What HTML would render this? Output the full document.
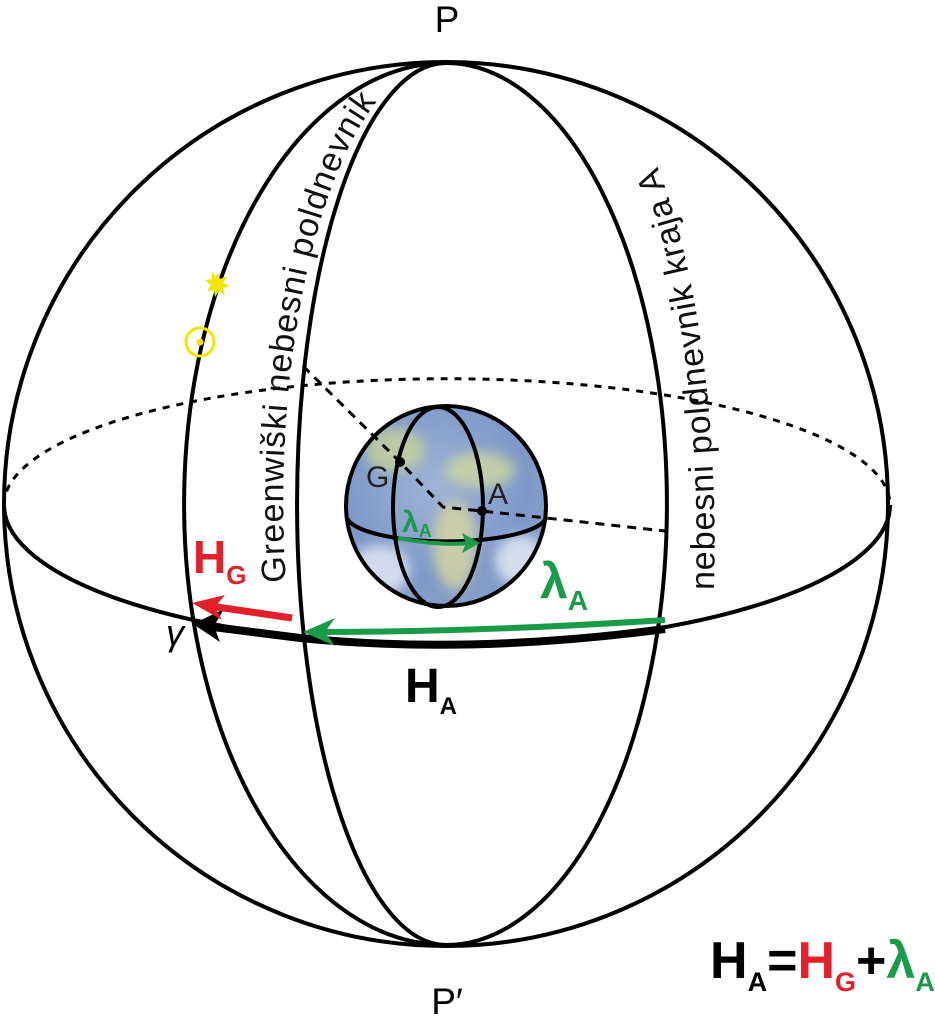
<!DOCTYPE html>
<html><head><meta charset="utf-8"><style>html,body{margin:0;padding:0;background:#fff}svg{display:block}</style></head>
<body>
<svg width="935" height="1024" viewBox="0 0 935 1024" xmlns="http://www.w3.org/2000/svg" font-family="Liberation Sans, sans-serif">
<defs>
<radialGradient id="eg" cx="0.45" cy="0.4" r="0.65">
<stop offset="0" stop-color="#9fb4d6"/><stop offset="0.7" stop-color="#7f98c8"/><stop offset="1" stop-color="#8aa0c8"/>
</radialGradient>
<filter id="bl"><feGaussianBlur stdDeviation="6"/></filter>
<clipPath id="ec"><circle cx="446" cy="506" r="100"/></clipPath>
<path id="gp" d="M286 582 A162 441 0 0 1 392 85"/>
<path id="rp" d="M714 590 C718 440 702 262 648 145"/>
</defs>
<g fill="none" stroke="#000" stroke-width="4">
<circle cx="446" cy="504" r="442"/>
<path d="M446 63 A262 441 0 0 0 446 945"/>
<path d="M446 63 A149 441 0 0 0 446 945"/>
<path d="M446 63 A221 441 0 0 1 446 945"/>
<path d="M4 505 A442 140 0 0 0 890 505"/>
<path d="M4 505 A442 126 0 0 1 890 505" stroke-dasharray="7,7" stroke-width="3"/>
</g>
<!-- earth -->
<circle cx="446" cy="506" r="100" fill="url(#eg)"/>
<g clip-path="url(#ec)" filter="url(#bl)" opacity="0.8">
<ellipse cx="395" cy="450" rx="30" ry="22" fill="#c8d49a"/>
<ellipse cx="480" cy="470" rx="35" ry="18" fill="#cdd8a0"/>
<ellipse cx="455" cy="545" rx="22" ry="45" fill="#d9d7a2"/>
<ellipse cx="380" cy="570" rx="30" ry="25" fill="#e6ecf4"/>
<ellipse cx="520" cy="560" rx="25" ry="25" fill="#e8eef6"/>
</g>
<g fill="none" stroke="#000" stroke-width="4">
<circle cx="446" cy="506" r="100"/>
<ellipse cx="438" cy="507" rx="45" ry="100"/>
<path d="M347 518 A100 26 0 0 0 546 518"/>
</g>
<!-- dashed lines -->
<g fill="none" stroke="#000" stroke-width="3" stroke-dasharray="9,7">
<path d="M303 366 L400 462 L443 507 L482 511 L665 531"/>
</g>
<circle cx="400" cy="462" r="5"/>
<circle cx="482" cy="511" r="5"/>
<!-- small green arrow -->
<path d="M398 538 Q440 546 470 543" fill="none" stroke="#1a9b4a" stroke-width="4"/>
<path d="M480 543 L462 533 L466 543 L462 553 Z" fill="#1a9b4a"/>
<!-- big arrows -->
<path d="M665 629 Q470 655 300 638 L205 626" fill="none" stroke="#000" stroke-width="8"/>
<path d="M193 624 L224 609 L214 626 L220 642 Z" fill="#000"/>
<path d="M665 620 Q480 632 318 632" fill="none" stroke="#1a9b4a" stroke-width="6"/>
<path d="M303 632 L335 618 L325 632 L335 646 Z" fill="#1a9b4a"/>
<path d="M292 618 L210 606" fill="none" stroke="#e3202a" stroke-width="7"/>
<path d="M192 603 L225 595 L215 607 L222 620 Z" fill="#e3202a"/>
<!-- sun and star -->
<circle cx="200" cy="342" r="14" fill="none" stroke="#f2e600" stroke-width="3"/>
<circle cx="200" cy="342" r="3.5" fill="#f2e600"/>
<polygon points="218,272 220,279 227,276 223,283 230,286 223,288 225,295 219,291 215,297 214,290 207,291 211,285 205,280 212,279 212,272 216,277" fill="#f2e600"/>
<!-- texts -->
<text x="447" y="32" font-size="37" text-anchor="middle">P</text>
<text x="447" y="1014" font-size="37" text-anchor="middle">P′</text>
<text font-size="34" letter-spacing="1" fill="#111"><textPath href="#gp">Greenwiški nebesni poldnevnik</textPath></text>
<text font-size="34" letter-spacing="1" fill="#111"><textPath href="#rp">nebesni  poldnevnik kraja A</textPath></text>
<text x="366" y="487" font-size="30" fill="#222">G</text>
<text x="488" y="504" font-size="30" fill="#222">A</text>
<text x="402" y="532" font-size="30" font-weight="bold" fill="#1a9b4a">λ<tspan font-size="18" dy="5">A</tspan></text>
<text x="193" y="573" font-size="46" font-weight="bold" fill="#e3202a">H<tspan font-size="26" dy="11">G</tspan></text>
<text x="540" y="598" font-size="50" font-weight="bold" fill="#1a9b4a">λ<tspan font-size="28" dy="12">A</tspan></text>
<text x="405" y="702" font-size="48" font-weight="bold" fill="#000">H<tspan font-size="24" dy="12">A</tspan></text>
<text x="166" y="645" font-size="36" font-style="italic" fill="#000">γ</text>
<text x="710" y="978" font-size="52" font-weight="bold" fill="#000">H<tspan font-size="27" dy="13">A</tspan><tspan dy="-13">=</tspan><tspan fill="#e3202a">H</tspan><tspan fill="#e3202a" font-size="27" dy="13">G</tspan><tspan dy="-13">+</tspan><tspan fill="#1a9b4a">λ</tspan><tspan fill="#1a9b4a" font-size="27" dy="13">A</tspan></text>
</svg>
</body></html>
